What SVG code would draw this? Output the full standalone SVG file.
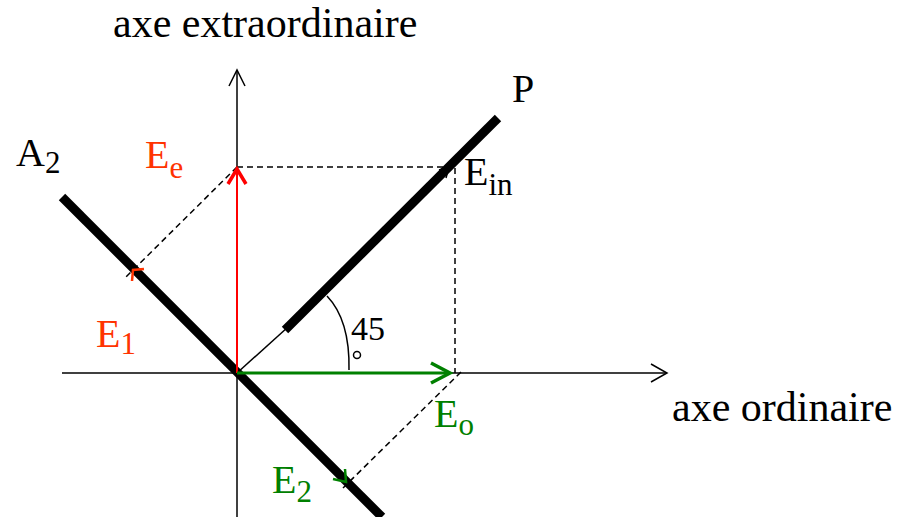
<svg xmlns="http://www.w3.org/2000/svg" width="900" height="517" viewBox="0 0 900 517">
<style>
.lbl{font-size:40px;}
.sub{font-size:31px;}
.ax{font-size:42px;fill:#000;}
.red{fill:#ff3300;}
.grn{fill:#008000;}
.blk{fill:#000;}
.thin{stroke:#000;stroke-width:1.5;fill:none;}
.dash{stroke:#000;stroke-width:1.5;fill:none;stroke-dasharray:6,4;}
.thick{stroke:#000;stroke-width:9;fill:none;}
</style>
<rect width="900" height="517" fill="#fff"/>
<g id="connectors">
  <line class="thin" x1="237" y1="517" x2="237" y2="71"/>
  <polyline class="thin" points="229,86 237,70 245,86"/>
  <line class="thin" x1="62" y1="373" x2="666" y2="373"/>
  <polyline class="thin" points="651,364 667,373 651,382"/>
  <line class="dash" x1="237" y1="167" x2="455" y2="167"/>
  <line class="dash" x1="455" y1="168" x2="455" y2="373"/>
  <line class="dash" x1="237" y1="167" x2="125" y2="278"/>
  <line class="dash" x1="461" y1="372" x2="343" y2="488"/>
  <path class="thin" d="M327,296 Q350,320 349,370"/>
  <line class="thin" x1="237" y1="373" x2="288" y2="327"/>
</g>
<g id="lineP">
  <line class="thick" x1="285" y1="330" x2="498" y2="118"/>
  <polyline class="thin" points="439,170 449,167 446,178"/>
</g>
<g id="lineA2">
  <line class="thick" x1="62" y1="197" x2="382" y2="517"/>
</g>
<g id="vecEe">
  <line x1="237" y1="373" x2="237" y2="169" stroke="#ff0000" stroke-width="2"/>
  <polyline points="228,184 237,169 246,184" fill="none" stroke="#ff0000" stroke-width="3.5"/>
</g>
<g id="vecEo">
  <line x1="237" y1="373" x2="449" y2="373" stroke="#008000" stroke-width="3"/>
  <polyline points="431,363 450,373 431,383" fill="none" stroke="#008000" stroke-width="3.5"/>
</g>
<g id="vecE1">
  <polyline points="132,281 133,270 144,269" fill="none" stroke="#ff3300" stroke-width="2.5"/>
</g>
<g id="vecE2">
  <polyline points="333,479 346,482 345,469" fill="none" stroke="#008000" stroke-width="2.5"/>
</g>
<g id="labels" font-family="'Liberation Serif', 'Times New Roman', 'DejaVu Serif', serif">
  <text class="ax" x="113" y="37">axe extraordinaire</text>
  <text class="ax" x="672" y="421">axe ordinaire</text>
  <text class="lbl blk" x="512" y="102">P</text>
  <text class="lbl blk" x="16" y="166">A<tspan class="sub" dy="7">2</tspan></text>
  <text class="lbl red" x="145" y="168">E<tspan class="sub" dy="10">e</tspan></text>
  <text class="lbl blk" x="464" y="185">E<tspan class="sub" dy="10">in</tspan></text>
  <text class="lbl red" x="96" y="347">E<tspan class="sub" dy="7">1</tspan></text>
  <text class="lbl grn" x="272" y="493">E<tspan class="sub" dy="9">2</tspan></text>
  <text class="lbl grn" x="434" y="427">E<tspan class="sub" dy="8">o</tspan></text>
  <text class="blk" x="351" y="340" font-size="34">45</text>
  <circle cx="357" cy="355" r="3.5" fill="none" stroke="#000" stroke-width="1.5"/>
</g>
</svg>
